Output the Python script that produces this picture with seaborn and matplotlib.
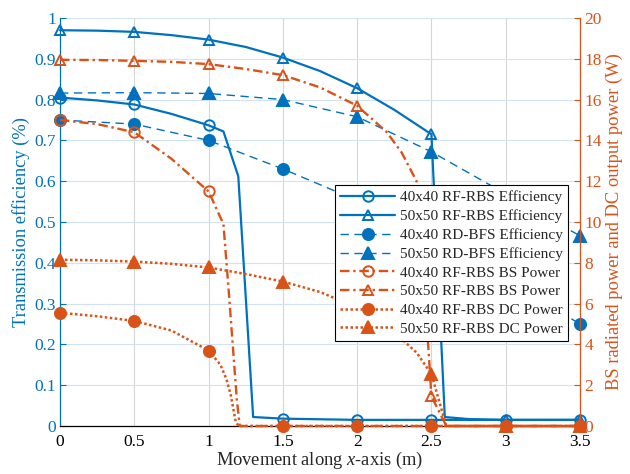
import matplotlib
matplotlib.use('Agg')

import matplotlib.pyplot as plt
import seaborn as sns
import pandas as pd

BLUE = '#0072BD'
ORANGE = '#D95319'

# left axis - transmission efficiency
x_rbs40 = [0, 0.25, 0.5, 0.75, 1.0, 1.1, 1.2, 1.3, 1.5, 2.0, 2.5, 3.0, 3.5]
eff_rbs40 = [0.805, 0.798, 0.788, 0.765, 0.737, 0.722, 0.612, 0.022, 0.018, 0.015, 0.015, 0.015, 0.015]

x_rbs50 = [0, 0.25, 0.5, 0.75, 1.0, 1.25, 1.5, 1.75, 2.0, 2.25, 2.5, 2.59, 2.75, 3.0, 3.5]
eff_rbs50 = [0.970, 0.969, 0.966, 0.958, 0.947, 0.929, 0.903, 0.870, 0.828, 0.775, 0.715, 0.022, 0.017, 0.015, 0.015]

x_bfs = [0, 0.5, 1.0, 1.5, 2.0, 2.5, 3.0, 3.5]
eff_bfs40 = [0.750, 0.740, 0.700, 0.630, 0.553, 0.460, 0.360, 0.250]
eff_bfs50 = [0.816, 0.817, 0.815, 0.800, 0.758, 0.672, 0.569, 0.466]

# right axis - power (W)
x_bs40 = [0, 0.25, 0.5, 0.75, 1.0, 1.1, 1.14, 1.19, 1.21, 1.5, 2.0, 2.5, 3.0, 3.5]
bs40 = [15.0, 14.8, 14.4, 13.1, 11.5, 9.9, 6.2, 1.3, 0, 0, 0, 0, 0, 0]

x_bs50 = [0, 0.25, 0.5, 0.75, 1.0, 1.25, 1.5, 1.75, 2.0, 2.2, 2.3, 2.4, 2.45, 2.5, 2.6, 3.0, 3.5]
bs50 = [17.95, 17.94, 17.9, 17.85, 17.74, 17.5, 17.2, 16.6, 15.7, 14.4, 13.4, 12.0, 7.2, 1.46, 0, 0, 0]

x_dc40 = [0, 0.25, 0.5, 0.75, 1.0, 1.08, 1.12, 1.15, 1.18, 1.2, 1.5, 2.0, 2.5, 3.0, 3.5]
dc40 = [5.55, 5.38, 5.15, 4.68, 3.7, 3.0, 2.3, 1.5, 0.3, 0, 0, 0, 0, 0, 0]

x_dc50 = [0, 0.25, 0.5, 0.75, 1.0, 1.25, 1.5, 1.75, 2.0, 2.25, 2.4, 2.5, 2.6, 3.0, 3.5]
dc50 = [8.15, 8.12, 8.06, 7.95, 7.77, 7.45, 7.08, 6.57, 5.8, 4.6, 3.6, 2.54, 0, 0, 0]

labels = ['40x40 RF-RBS Efficiency', '50x50 RF-RBS Efficiency',
          '40x40 RD-BFS Efficiency', '50x50 RD-BFS Efficiency',
          '40x40 RF-RBS BS Power', '50x50 RF-RBS BS Power',
          '40x40 RF-RBS DC Power', '50x50 RF-RBS DC Power']

sns.set_style('white')
plt.rcParams['font.family'] = ['Liberation Serif', 'DejaVu Serif']
plt.rcParams['mathtext.fontset'] = 'custom'
plt.rcParams['mathtext.rm'] = 'Liberation Serif'
plt.rcParams['mathtext.it'] = 'Liberation Serif:italic'

fig = plt.figure(figsize=(6.3, 4.74), dpi=100)
ax1 = fig.add_axes([60 / 630, 48 / 474, 520 / 630, 408 / 474])
ax2 = ax1.twinx()

dash_dot = (0, (4, 1.6, 1, 1.6))
dotted = (0, (1, 1))

# (x, y, axis, color, linestyle, lw, marker, filled)
series = [
    (x_rbs40, eff_rbs40, ax1, BLUE, '-', 1.6, 'o', False),
    (x_rbs50, eff_rbs50, ax1, BLUE, '-', 1.6, '^', False),
    (x_bfs, eff_bfs40, ax1, BLUE, (0, (6, 4)), 1.0, 'o', True),
    (x_bfs, eff_bfs50, ax1, BLUE, (0, (6, 4)), 1.0, '^', True),
    (x_bs40, bs40, ax2, ORANGE, dash_dot, 1.7, 'o', False),
    (x_bs50, bs50, ax2, ORANGE, dash_dot, 1.7, '^', False),
    (x_dc40, dc40, ax2, ORANGE, dotted, 1.8, 'o', True),
    (x_dc50, dc50, ax2, ORANGE, dotted, 1.8, '^', True),
]

for (xs, ys, ax, col, ls, lw, mk, filled), lab in zip(series, labels):
    df = pd.DataFrame({'x': xs, 'y': ys})
    marks = [i for i, v in enumerate(xs) if abs(v * 2 - round(v * 2)) < 1e-9]  # markers every 0.5 m
    sns.lineplot(data=df, x='x', y='y', ax=ax, color=col, linestyle=ls, linewidth=lw,
                 marker=mk, markersize=8 if filled else 7.5, markevery=marks,
                 markerfacecolor=col if filled else 'none', markeredgecolor=col,
                 markeredgewidth=1.4, errorbar=None, legend=False, clip_on=False,
                 label=lab)

ax1.set_xlim(0, 3.5)
ax1.set_ylim(0, 1)
ax2.set_ylim(0, 20)
ax1.set_xticks([0, 0.5, 1, 1.5, 2, 2.5, 3, 3.5])
ax1.set_xticklabels(['0', '0.5', '1', '1.5', '2', '2.5', '3', '3.5'])
ax1.set_yticks([i / 10 for i in range(11)])
ax1.set_yticklabels(['0'] + [f'{i / 10:g}' for i in range(1, 10)] + ['1'])
ax2.set_yticks(range(0, 21, 2))

ax1.set_xlabel('Movement along $x$-axis (m)', fontsize=13.3, labelpad=0)
ax1.set_ylabel('Transmission efficiency (%)', fontsize=13.3, color=BLUE, labelpad=3)
ax2.set_ylabel('BS radiated power and DC output power (W)', fontsize=13.3, color=ORANGE, labelpad=3)

ax1.tick_params(axis='x', direction='in', length=4, colors='black', labelsize=12.5, pad=6)
ax1.tick_params(axis='y', direction='in', length=4, colors=BLUE, labelsize=12.5, pad=3)
ax2.tick_params(axis='y', direction='in', length=4, colors=ORANGE, labelsize=12.5, pad=3)

ax1.set_axisbelow(True)
ax1.xaxis.grid(True, color='#d6d6d6', linewidth=0.8)
ax1.yaxis.grid(True, color='#d3e2f0', linewidth=0.8)
ax2.grid(False)

for sp in ['top', 'right']:
    ax1.spines[sp].set_visible(False)
for sp in ['top', 'left', 'bottom']:
    ax2.spines[sp].set_visible(False)
ax1.spines['left'].set_color(BLUE)
ax1.spines['bottom'].set_color('black')
ax2.spines['right'].set_color(ORANGE)
for sp in [ax1.spines['left'], ax1.spines['bottom'], ax2.spines['right']]:
    sp.set_linewidth(0.9)

handles = ax1.get_lines() + ax2.get_lines()
leg = ax2.legend(handles, labels, loc='upper right', bbox_to_anchor=(0.977, 0.590),
                 fontsize=11, frameon=True, fancybox=False, framealpha=1,
                 edgecolor='black', borderaxespad=0, borderpad=0.35,
                 labelspacing=0.33, handlelength=3.6, handletextpad=0.3)
leg.get_frame().set_linewidth(0.8)

fig.savefig('out.png', dpi=100)
plt.close()
